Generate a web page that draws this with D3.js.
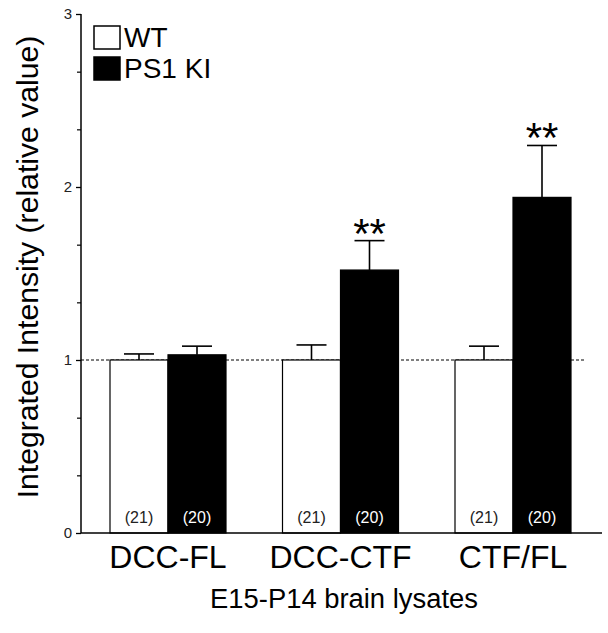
<!DOCTYPE html>
<html><head><meta charset="utf-8">
<script src="https://cdn.jsdelivr.net/npm/d3@7"></script>
<style>
html,body{margin:0;padding:0;background:#fff;}
text{font-family:"Liberation Sans",Arial,Helvetica,sans-serif;}
</style></head>
<body><svg id="c" width="608" height="633"></svg>
<script>
const categories = ["DCC-FL","DCC-CTF","CTF/FL"];
const seriesNames = ["WT","PS1 KI"];
const wtValues = [1.0, 1.0, 1.0];
const wtErrors = [0.035, 0.087, 0.08];
const kiValues = [1.03, 1.52, 1.94];
const kiErrors = [0.05, 0.17, 0.30];
const wtCounts = ["(21)","(21)","(21)"];
const kiCounts = ["(20)","(20)","(20)"];
const significance = ["", "**", "**"];
const yTicks = [0, 1, 2, 3];
const yTitle = "Integrated Intensity (relative value)";
const xTitle = "E15-P14 brain lysates";

(function(){
const svg = d3.select("#c");
const mLeft = 81, mRight = 602, mTop = 14, mBottom = 533;

const y = d3.scaleLinear().domain([0, 3]).range([mBottom, mTop]);
const xc = d3.scalePoint().domain(categories).range([168, 513]);
const barW = 58;

// reference dashed line at 1
svg.append("line").attr("x1", mLeft).attr("x2", 584).attr("y1", y(1)).attr("y2", y(1))
  .attr("stroke", "#000").attr("stroke-width", 1).attr("stroke-dasharray", "3,2");

const data = categories.map((c, i) => ({
  c, wt: wtValues[i], wtE: wtErrors[i], ki: kiValues[i], kiE: kiErrors[i],
  wtN: wtCounts[i], kiN: kiCounts[i], sig: significance[i]
}));

const g = svg.append("g");
data.forEach(d => {
  const cx = xc(d.c);
  const bars = [
    {v: d.wt, e: d.wtE, x: cx - barW, fill: "#fff", n: d.wtN, tc: "#222"},
    {v: d.ki, e: d.kiE, x: cx, fill: "#000", n: d.kiN, tc: "#fff"}
  ];
  bars.forEach(b => {
    const mx = b.x + barW / 2;
    g.append("line").attr("x1", mx).attr("x2", mx).attr("y1", y(b.v)).attr("y2", y(b.v + b.e))
      .attr("stroke", "#000").attr("stroke-width", 1.6);
    g.append("line").attr("x1", mx - 15).attr("x2", mx + 15).attr("y1", y(b.v + b.e)).attr("y2", y(b.v + b.e))
      .attr("stroke", "#000").attr("stroke-width", 1.6);
    g.append("rect").attr("x", b.x).attr("y", y(b.v)).attr("width", barW).attr("height", y(0) - y(b.v))
      .attr("fill", b.fill).attr("stroke", "#000").attr("stroke-width", 1.2);
    g.append("text").attr("x", mx).attr("y", 523).attr("text-anchor", "middle")
      .attr("font-size", 16).attr("fill", b.tc).text(b.n);
  });
  if (d.sig) {
    g.append("text").attr("x", cx + barW / 2).attr("y", y(d.ki + d.kiE) + 7)
      .attr("text-anchor", "middle").attr("font-size", 42).attr("fill", "#000").text(d.sig);
  }
  g.append("text").attr("x", cx).attr("y", 568).attr("text-anchor", "middle")
    .attr("font-size", 32).attr("fill", "#000").text(d.c);
});

// y axis
const yAxis = d3.axisLeft(y).tickValues(yTicks).tickSize(5).tickPadding(4).tickFormat(d3.format("d"));
const ya = svg.append("g").attr("transform", `translate(${mLeft},0)`).call(yAxis);
ya.select(".domain").attr("stroke-width", 1.5).attr("d", `M0,${mTop}V${mBottom}`);
ya.selectAll(".tick line").attr("stroke-width", 1.3);
ya.selectAll(".tick text").attr("font-size", 15).attr("fill", "#222");
// minor ticks at thirds
const minor = d3.range(0, 3.001, 1/3).filter(v => Math.abs(v - Math.round(v)) > 0.01);
const ym = svg.append("g").attr("transform", `translate(${mLeft},0)`)
  .call(d3.axisLeft(y).tickValues(minor).tickSize(4).tickFormat(""));
ym.select(".domain").remove();
ym.selectAll(".tick line").attr("stroke-width", 1.2);

// x axis baseline
svg.append("line").attr("x1", mLeft).attr("x2", mRight).attr("y1", mBottom).attr("y2", mBottom)
  .attr("stroke", "#000").attr("stroke-width", 1.5);

// titles (font size fitted to the reference span)
function fit(sel, target) {
  const base = 28;
  sel.attr("font-size", base);
  const w = sel.node().getComputedTextLength();
  if (w > 0) sel.attr("font-size", base * target / w);
}
const yt = svg.append("text").attr("transform", `translate(38,267) rotate(-90)`).attr("text-anchor", "middle")
  .attr("fill", "#000").text(yTitle);
fit(yt, 463);
const xt = svg.append("text").attr("x", 344).attr("y", 608).attr("text-anchor", "middle")
  .attr("fill", "#000").text(xTitle);
fit(xt, 268);

// legend
const leg = svg.append("g");
const legFills = ["#fff", "#000"];
seriesNames.forEach((s, i) => {
  const ly = 26 + i * 31;
  leg.append("rect").attr("x", 94).attr("y", ly).attr("width", 26).attr("height", 23)
    .attr("fill", legFills[i]).attr("stroke", "#000").attr("stroke-width", 1.5);
  leg.append("text").attr("x", 124).attr("y", ly + 21).attr("font-size", 28).attr("fill", "#000").text(s);
});
})();
</script>
</body></html>
